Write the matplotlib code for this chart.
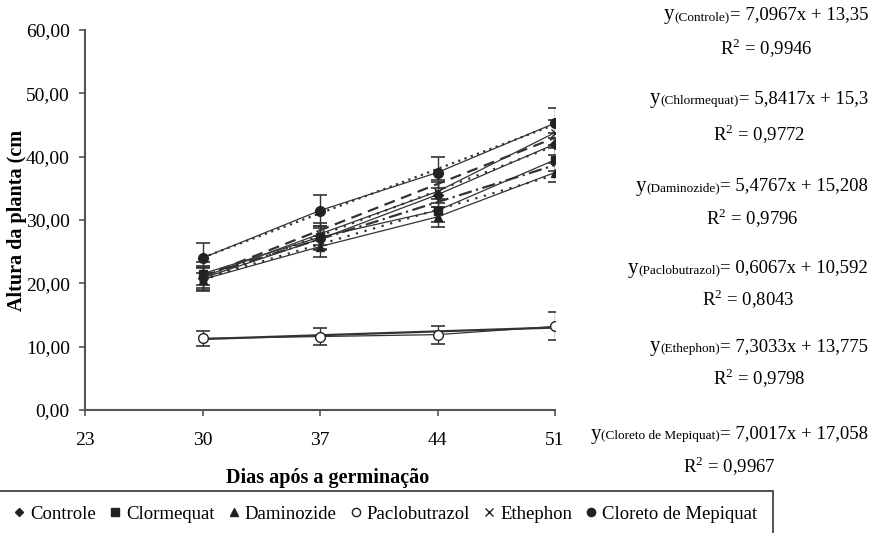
import matplotlib
matplotlib.use("Agg")
import matplotlib.pyplot as plt
from matplotlib.lines import Line2D
from matplotlib.patches import Rectangle
from matplotlib.text import Annotation
import numpy as np

plt.rcParams['font.family'] = ['Liberation Serif', 'DejaVu Serif']
plt.rcParams['mathtext.fontset'] = 'custom'
plt.rcParams['mathtext.rm'] = 'Liberation Serif'

# ---- data ----
days = [30, 37, 44, 51]
series_names = ["Controle", "Clormequat", "Daminozide", "Paclobutrazol", "Ethephon", "Cloreto de Mepiquat"]
controle = [20.8, 27.0, 34.0, 42.0]
clormequat = [21.5, 27.3, 31.5, 39.5]
daminozide = [20.6, 25.8, 30.5, 37.5]
paclobutrazol = [11.3, 11.6, 11.9, 13.2]
ethephon = [21.0, 27.8, 34.5, 43.8]
mepiquat = [24.0, 31.5, 37.5, 45.3]
err_controle = [1.8, 1.8, 2.0, 1.8]
err_clormequat = [1.8, 1.8, 1.8, 1.8]
err_daminozide = [1.8, 1.6, 1.6, 1.5]
err_paclobutrazol = [1.2, 1.3, 1.4, 2.2]
err_ethephon = [1.8, 1.8, 1.8, 2.0]
err_mepiquat = [2.4, 2.4, 2.5, 2.4]
# regression coefficients (x = 1..4 sampling index), printed in the chart
slopes = [7.0967, 5.8417, 5.4767, 0.6067, 7.3033, 7.0017]
intercepts = [13.35, 15.3, 15.208, 10.592, 13.775, 17.058]
slope_txt = ["7,0967", "5,8417", "5,4767", "0,6067", "7,3033", "7,0017"]
inter_txt = ["13,35", "15,3", "15,208", "10,592", "13,775", "17,058"]
r2_txt = ["0,9946", "0,9772", "0,9796", "0,8043", "0,9798", "0,9967"]
eq_labels = ["(Controle)", "(Chlormequat)", "(Daminozide)", "(Paclobutrazol)", "(Ethephon)", "(Cloreto de Mepiquat)"]
xticks = [23, 30, 37, 44, 51]
yticks = [0, 10, 20, 30, 40, 50, 60]

values = [controle, clormequat, daminozide, paclobutrazol, ethephon, mepiquat]
errors = [err_controle, err_clormequat, err_daminozide, err_paclobutrazol, err_ethephon, err_mepiquat]
markers = ['D', 's', '^', 'o', 'x', 'o']
mfc = ['#222', '#222', '#222', 'white', '#222', '#222']
msizes = [5, 6, 6, 7, 6, 7]
trend_styles = [(0, (1, 3)), (0, (6, 2, 1, 2)), (0, (1, 3)), '-', (0, (5, 3)), (0, (1, 2))]

fig = plt.figure(figsize=(8.8, 5.33), dpi=100)
ax = fig.add_axes([85/880, 1-410/533, (555-85)/880, (410-30)/533])

xi = np.arange(1, 5)
for v, e, m, fc, ms, ts, a, b in zip(values, errors, markers, mfc, msizes, trend_styles, slopes, intercepts):
    ax.errorbar(days, v, yerr=e, fmt='-', color='#333', lw=0.9, marker=m, mfc=fc,
                mec='#222', ms=ms, capsize=5, elinewidth=1.0, capthick=1.2, zorder=3)
    ax.plot(days, a*xi + b, linestyle=ts, color='#333', lw=1.6, zorder=2)

ax.set_xlim(23, 51)
ax.set_ylim(0, 60)
ax.set_xticks(xticks)
ax.set_yticks(yticks)
ax.set_yticklabels([f"{t:.2f}".replace('.', ',') for t in yticks])
ax.tick_params(labelsize=14, direction='out', length=4, width=1.2, color='#555')
ax.tick_params(axis='x', pad=12)
ax.tick_params(axis='y', pad=7)
ax.spines['top'].set_visible(False)
ax.spines['right'].set_visible(False)
for s in ['left', 'bottom']:
    ax.spines[s].set_color('#555')
    ax.spines[s].set_linewidth(1.5)
ax.set_ylabel("Altura da planta (cm", fontsize=14.5, fontweight='bold')
ax.yaxis.set_label_coords((17-85)/470, 0.5)
ax.yaxis.label.set_va('center')
ax.set_xlabel("Dias após a germinação", fontsize=14.5, fontweight='bold')
ax.xaxis.set_label_coords((328-85)/470, (410-478)/380)
ax.xaxis.label.set_va('center')

# equations on the right
eq_y = [15, 99, 186, 268, 347, 434]
r2_y = [48, 134, 218, 299, 378, 466]
eq_right = 868
chains = []
for i in range(6):
    t1 = fig.text(0.8, 1-eq_y[i]/533, "y", fontsize=15, va='center', ha='left')
    a2 = fig.add_artist(Annotation(eq_labels[i], xy=(1, 0.22), xycoords=t1,
                        fontsize=9.5, va='baseline', ha='left'))
    a3 = fig.add_artist(Annotation(f"= {slope_txt[i]}x + {inter_txt[i]}", xy=(1.0, 0.05), xycoords=a2,
                        fontsize=13.5, va='bottom', ha='left'))
    r2 = fig.text(0.9, 1-r2_y[i]/533, "R$^{2}$ = " + r2_txt[i], fontsize=13.5, ha='center', va='center')
    chains.append((t1, a3, r2))

fig.canvas.draw()
r = fig.canvas.get_renderer()
for (t1, a3, r2) in chains:
    x0 = t1.get_window_extent(r).x0
    x1 = a3.get_window_extent(r).x1
    w = x1 - x0
    left = eq_right - w
    t1.set_x(left/880)
    r2.set_x((left + w/2)/880)

# legend
handles = [Line2D([], [], linestyle='none', marker=m, mfc=fc, mec='#222', color='#222', ms=s*0.85)
           for m, fc, s in zip(markers, mfc, msizes)]
fig.legend(handles, series_names, loc='center left', bbox_to_anchor=(0.005, 1-514/533), ncol=6,
           frameon=False, fontsize=13.5, handlelength=0.6, handletextpad=0.3, columnspacing=0.7, borderpad=0)
fig.add_artist(Rectangle((-0.01, -0.05), 0.888, 1-491/533 + 0.05, transform=fig.transFigure,
                         fill=False, ec='#333', lw=1.2))

fig.savefig("out.png", dpi=100)
